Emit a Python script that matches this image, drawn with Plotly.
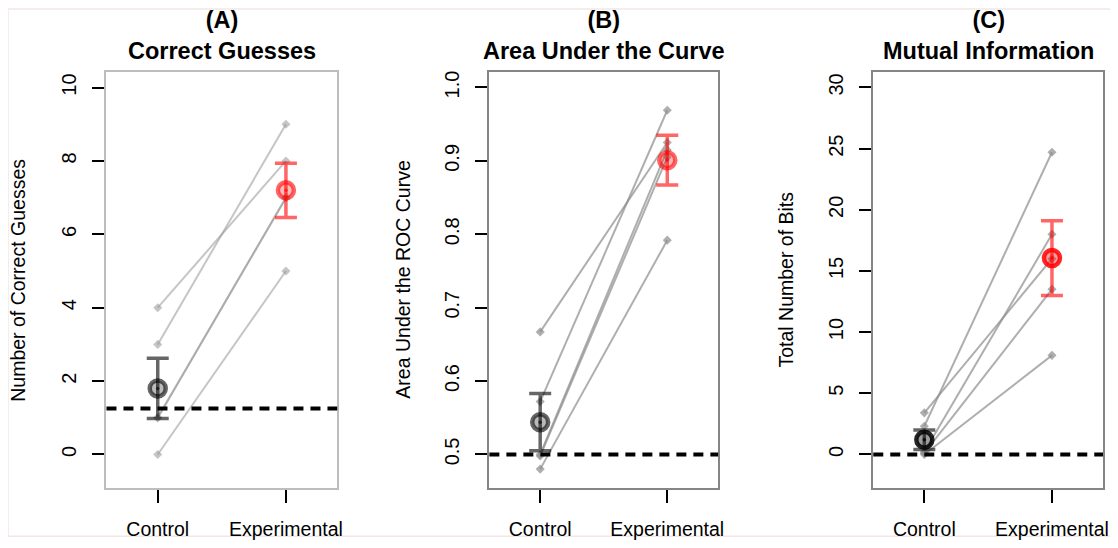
import plotly.graph_objects as go

# ---------------- data ----------------
categories = ["Control", "Experimental"]
panel_letters = ["(A)", "(B)", "(C)"]
panel_titles = ["Correct Guesses", "Area Under the Curve", "Mutual Information"]
y_titles = ["Number of Correct Guesses", "Area Under the ROC Curve", "Total Number of Bits"]

# per-subject values (5 subjects)
a_control = [4, 3, 1, 1, 0]
a_experimental = [8, 9, 7, 7, 5]
b_control = [0.667, 0.572, 0.500, 0.498, 0.480]
b_experimental = [0.925, 0.969, 0.915, 0.905, 0.792]
c_control = [3.4, 2.3, 0.2, 0.1, 0.0]
c_experimental = [16.0, 24.7, 18.0, 13.5, 8.1]

# group means and error bar half-widths
a_means = [1.8, 7.2]
a_errors = [0.82, 0.74]
b_means = [0.544, 0.901]
b_errors = [0.039, 0.034]
c_means = [1.2, 16.05]
c_errors = [0.8, 3.05]

# chance levels
chance_levels = [1.25, 0.5, 0.0]

# y ticks
a_ticks = [0, 2, 4, 6, 8, 10]
b_ticks = [0.5, 0.6, 0.7, 0.8, 0.9, 1.0]
c_ticks = [0, 5, 10, 15, 20, 25, 30]

# ---------------- layout geometry ----------------
OFF = 8                      # page body margin
W, H = 1118 - 2 * OFF, 548 - 2 * OFF
box_x = [(107, 339), (492, 722), (878, 1109)]
box_y = (72, 496)
y_ranges = [(-0.909, 10.43), (0.4545, 1.0214), (-2.73, 31.28)]
ytitle_x = [18, 405, 790]
box_colors = ["#bdbdbd", "#858585", "#858585"]
line_colors = ["rgba(150,150,150,0.55)", "rgba(140,140,140,0.7)", "rgba(140,140,140,0.7)"]
mean_alpha = [0.6, 0.6, 0.85]


def px(x):
    return (x - OFF) / W


def py(y):
    return 1 - (y - OFF) / H


panels = [
    (a_control, a_experimental, a_means, a_errors, a_ticks, None),
    (b_control, b_experimental, b_means, b_errors, b_ticks, ".1f"),
    (c_control, c_experimental, c_means, c_errors, c_ticks, None),
]

FONT = "Liberation Sans, Arial, Helvetica, sans-serif"

fig = go.Figure()
annotations = []
shapes = []
layout_axes = {}

for i, (ctrl, expt, means, errs, ticks, fmt) in enumerate(panels):
    sfx = "" if i == 0 else str(i + 1)
    xref = "x" + sfx
    yref = "y" + sfx

    # subject lines
    for c_val, e_val in zip(ctrl, expt):
        fig.add_trace(go.Scatter(
            x=categories, y=[c_val, e_val], mode="lines+markers",
            xaxis=xref, yaxis=yref,
            line=dict(color=line_colors[i], width=2),
            marker=dict(symbol="diamond", size=7, color=line_colors[i]),
            showlegend=False, hoverinfo="skip"))

    # group means with error bars
    a = mean_alpha[i]
    group_cols = [(0, 0, 0), (255, 0, 0)]
    for g in range(2):
        r, gg, b = group_cols[g]
        ring = f"rgba({r},{gg},{b},{a})"
        fill = f"rgba({r},{gg},{b},{a * 0.45})"
        fig.add_trace(go.Scatter(
            x=[categories[g]], y=[means[g]], mode="markers",
            xaxis=xref, yaxis=yref,
            error_y=dict(type="data", array=[errs[g]], color=f"rgba({r},{gg},{b},0.6)",
                         thickness=3.5, width=11),
            marker=dict(symbol="circle", size=16, color=fill,
                        line=dict(color=ring, width=4.5)),
            showlegend=False, hoverinfo="skip"))
        fig.add_trace(go.Scatter(
            x=[categories[g]], y=[means[g]], mode="markers",
            xaxis=xref, yaxis=yref,
            marker=dict(symbol="circle", size=3.5, color=ring),
            showlegend=False, hoverinfo="skip"))

    # chance line
    shapes.append(dict(type="line", xref=xref + " domain", yref=yref,
                       x0=0, x1=1, y0=chance_levels[i], y1=chance_levels[i],
                       line=dict(color="black", width=4, dash="10px,7px")))

    x0, x1 = box_x[i]
    layout_axes["xaxis" + sfx] = dict(
        domain=[px(x0), px(x1)], anchor=yref, type="category",
        categoryorder="array", categoryarray=categories,
        range=[-0.4, 1.4], showline=True, mirror=True, linecolor=box_colors[i],
        linewidth=2, ticks="outside", ticklen=13, tickwidth=1.5, tickcolor="black",
        showgrid=False, zeroline=False, ticklabelstandoff=10,
        tickfont=dict(family=FONT, size=19.5, color="black"))
    layout_axes["yaxis" + sfx] = dict(
        domain=[py(box_y[1]), py(box_y[0])], anchor=xref,
        range=list(y_ranges[i]), tickvals=ticks, tickformat=fmt,
        showline=True, mirror=True, linecolor=box_colors[i], linewidth=2,
        ticks="outside", ticklen=12, tickwidth=1.5, tickcolor="black",
        showgrid=False, zeroline=False, tickangle=-90, ticklabelstandoff=8,
        tickfont=dict(family=FONT, size=20, color="black"))

    cx = px((x0 + x1) / 2)
    annotations.append(dict(text="<b>" + panel_letters[i] + "<br>" + panel_titles[i] + "</b>",
                            x=cx, y=py(35), xref="paper", yref="paper", showarrow=False,
                            xanchor="center", yanchor="middle", align="center",
                            font=dict(family=FONT, size=23.5, color="black")))
    annotations.append(dict(text=y_titles[i], x=px(ytitle_x[i]),
                            y=py((box_y[0] + box_y[1]) / 2),
                            xref="paper", yref="paper", showarrow=False, textangle=-90,
                            xanchor="center", yanchor="middle",
                            font=dict(family=FONT, size=19.5, color="black")))

# faint outer frame
shapes.append(dict(type="rect", xref="paper", yref="paper",
                   x0=0.0, x1=1.01, y0=-0.01, y1=1.0,
                   line=dict(color="#f3e6e6", width=1.5), layer="below"))

fig.update_layout(
    width=W, height=H, margin=dict(l=0, r=0, t=0, b=0),
    paper_bgcolor="white", plot_bgcolor="white",
    annotations=annotations, shapes=shapes, showlegend=False,
    **layout_axes)

fig.write_html("out.html")
